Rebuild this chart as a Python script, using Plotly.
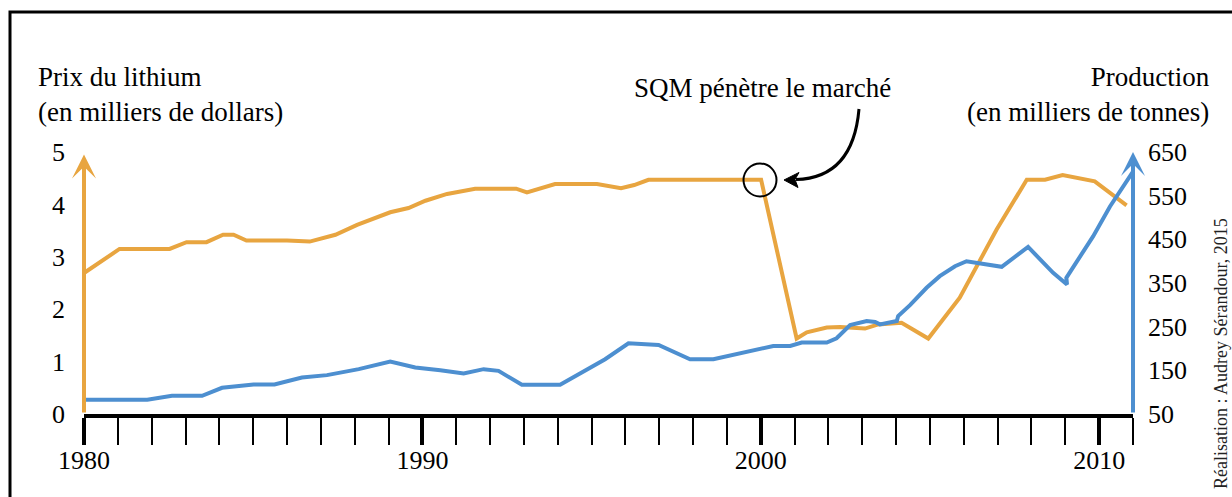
import plotly.graph_objects as go

# ---------------- data ----------------
price_years = [1980.0, 1981.05, 1982.53, 1983.03, 1983.62, 1984.11, 1984.42, 1984.80,
               1986.0, 1986.67, 1987.43, 1988.07, 1989.05, 1989.59, 1990.09, 1990.73,
               1991.56, 1992.77, 1993.09, 1993.92, 1995.16, 1995.87, 1996.26, 1996.68,
               2000.01, 2001.06, 2001.36, 2001.95, 2002.34, 2003.08, 2003.47, 2004.16,
               2004.95, 2005.88, 2006.97, 2007.86, 2008.40, 2008.92, 2009.87, 2010.81]
price = [2.69, 3.15, 3.15, 3.28, 3.28, 3.42, 3.42, 3.31,
         3.31, 3.29, 3.42, 3.61, 3.85, 3.93, 4.07, 4.20,
         4.30, 4.30, 4.23, 4.39, 4.39, 4.31, 4.37, 4.47,
         4.47, 1.44, 1.56, 1.65, 1.66, 1.63, 1.71, 1.74,
         1.44, 2.22, 3.52, 4.47, 4.47, 4.56, 4.44, 3.98]

prod_years = [1980.04, 1981.87, 1982.60, 1983.49, 1984.08, 1985.01, 1985.63, 1986.44,
              1987.18, 1988.12, 1989.05, 1989.79, 1990.53, 1991.22, 1991.81, 1992.25,
              1992.94, 1994.07, 1995.40, 1996.09, 1996.98, 1997.91, 1998.60, 1999.29,
              2000.37, 2000.87, 2001.21, 2001.95, 2002.24, 2002.64, 2003.13, 2003.38,
              2003.52, 2004.02, 2004.06, 2004.41, 2004.90, 2005.29, 2005.74, 2006.08,
              2007.12, 2007.90, 2008.64, 2009.05, 2009.03, 2009.82, 2010.32, 2011.00]
production = [82.6, 82.6, 91.8, 91.8, 110.0, 117.7, 117.7, 133.7,
              139.0, 152.7, 170.2, 156.5, 150.4, 142.9, 152.7, 148.8,
              116.8, 116.8, 175.5, 212.0, 208.1, 175.5, 175.5, 186.9,
              205.8, 205.8, 213.6, 213.6, 223.4, 253.7, 262.9, 260.6,
              255.3, 262.9, 274.3, 299.4, 339.0, 365.6, 388.4, 399.8,
              387.0, 432.6, 373.3, 346.6, 361.9, 456.8, 525.3, 605.1]

x_ticks = [1980, 1990, 2000, 2010]
left_ticks = [0, 1, 2, 3, 4, 5]
right_ticks = [50, 150, 250, 350, 450, 550, 650]

left_title = "Prix du lithium<br>(en milliers de dollars)"
right_title = "Production<br>(en milliers de tonnes)"
event_label = "SQM pénètre le marché"
credit = "Réalisation : Audrey Sérandour, 2015"

ORANGE = "#E8A540"
BLUE = "#4D8FD0"
FONT = "Liberation Serif"

# ---------------- layout helpers (pixel -> paper) ----------------
W, H = 1232, 497
L, R, T, B = 84, 1133, 152, 414


def px(x):
    return (x - L) / (R - L)


def py(y):
    return (B - y) / (B - T)


fig = go.Figure()
fig.add_trace(go.Scatter(x=prod_years, y=production, yaxis="y2", mode="lines",
                         line=dict(color=BLUE, width=4), cliponaxis=False,
                         showlegend=False, hoverinfo="skip"))
fig.add_trace(go.Scatter(x=price_years, y=price, yaxis="y", mode="lines",
                         line=dict(color=ORANGE, width=4), cliponaxis=False,
                         showlegend=False, hoverinfo="skip"))

tickfont = dict(family=FONT, size=26, color="black")

fig.update_layout(
    template="none",
    width=W, height=H,
    margin=dict(l=L, r=W - R, t=T, b=H - B, autoexpand=False),
    paper_bgcolor="white", plot_bgcolor="white",
    showlegend=False,
    xaxis=dict(range=[1980, 2011], showgrid=False, zeroline=False,
               showline=True, linecolor="black", linewidth=4,
               ticks="outside", ticklen=27, tickwidth=4, tickcolor="black",
               tickvals=x_ticks, ticktext=[str(v) for v in x_ticks],
               tickfont=tickfont, ticklabelstandoff=-7,
               minor=dict(dtick=1, tick0=1980, ticks="outside", ticklen=27,
                          tickwidth=2, tickcolor="black", showgrid=False),
               automargin=False, fixedrange=True),
    yaxis=dict(range=[0, 5], showgrid=False, zeroline=False, showline=False,
               ticks="", tickvals=left_ticks, tickfont=tickfont,
               ticklabelstandoff=18, automargin=False),
    yaxis2=dict(range=[50, 650], overlaying="y", side="right", showgrid=False,
                zeroline=False, showline=False, ticks="", tickvals=right_ticks,
                tickfont=tickfont, ticklabelstandoff=14, automargin=False),
)

annotations = [
    # orange (left) axis arrow
    dict(x=1980, y=4.95, ax=1980, ay=0, xref="x", yref="y", axref="x", ayref="y",
         text="", showarrow=True, arrowhead=3, arrowsize=1.0, arrowwidth=4,
         arrowcolor=ORANGE, standoff=0, startstandoff=0),
    # blue (right) axis arrow
    dict(x=2011, y=650, ax=2011, ay=50, xref="x", yref="y2", axref="x", ayref="y2",
         text="", showarrow=True, arrowhead=3, arrowsize=1.0, arrowwidth=4,
         arrowcolor=BLUE, standoff=0, startstandoff=0),
    dict(x=px(36), y=py(95), xref="paper", yref="paper", xanchor="left",
         yanchor="middle", align="left", text=left_title, showarrow=False,
         font=dict(family=FONT, size=27, color="black")),
    dict(x=px(1212), y=py(95), xref="paper", yref="paper", xanchor="right",
         yanchor="middle", align="right", text=right_title, showarrow=False,
         font=dict(family=FONT, size=27, color="black")),
    dict(x=px(762), y=py(88), xref="paper", yref="paper", xanchor="center",
         yanchor="middle", text=event_label, showarrow=False,
         font=dict(family=FONT, size=27, color="black")),
    dict(x=px(1221), y=py(354), xref="paper", yref="paper", xanchor="center",
         yanchor="middle", text=credit, textangle=-90, showarrow=False,
         font=dict(family=FONT, size=18, color="#222222")),
]
fig.update_layout(annotations=annotations)


def pth(points, close=False):
    s = "M " + " L ".join(f"{px(a):.5f},{py(b):.5f}" for a, b in points)
    return s + (" Z" if close else "")


shapes = [
    # outer frame
    dict(type="rect", xref="paper", yref="paper", x0=px(10), x1=px(1260),
         y0=py(540), y1=py(12), line=dict(color="black", width=3),
         fillcolor="rgba(0,0,0,0)", layer="above"),
    # circle marking the event
    dict(type="circle", xref="paper", yref="paper", x0=px(743.5), x1=px(776.5),
         y0=py(196.5), y1=py(163.5), line=dict(color="black", width=2),
         layer="above"),
    # curved pointer
    dict(type="path", xref="paper", yref="paper",
         path=(f"M {px(859):.5f},{py(109):.5f} Q {px(853):.5f},{py(178):.5f} "
               f"{px(796):.5f},{py(179.5):.5f}"),
         line=dict(color="black", width=3), layer="above"),
    # arrow head
    dict(type="path", xref="paper", yref="paper",
         path=pth([(784, 180), (799, 172.5), (795, 179.5), (798, 187.5)], close=True),
         fillcolor="black", line=dict(color="black", width=1), layer="above"),
]
fig.update_layout(shapes=shapes)

fig.write_html("out.html", config={"displayModeBar": False},
               post_script="document.body.style.margin='0';")
